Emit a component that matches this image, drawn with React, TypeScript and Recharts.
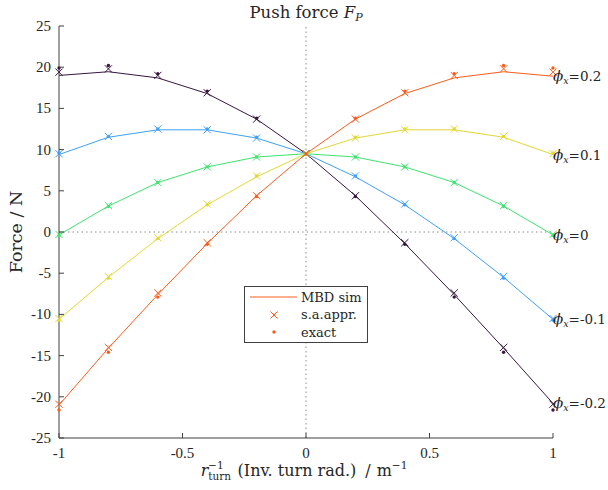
import React from "react"
import { LineChart, Line, XAxis, YAxis, ReferenceLine, Legend } from "recharts"

const xs = [-1, -0.8, -0.6, -0.4, -0.2, 0, 0.2, 0.4, 0.6, 0.8, 1]
const xTicks = [-1, -0.5, 0, 0.5, 1]
const yTicks = [-25, -20, -15, -10, -5, 0, 5, 10, 15, 20, 25]
const phiLabels = ["-0.2", "-0.1", "0", "0.1", "0.2"]
const colors = ["#36173f", "#3fa0f8", "#3ee46e", "#e2d834", "#fa5c1c"]

// phi_x = -0.2
const simM2 = [19.0, 19.45, 18.7, 16.8, 13.7, 9.5, 4.4, -1.4, -7.6, -14.1, -20.8]
const saM2 = [19.4, 19.8, 19.0, 16.9, 13.7, 9.5, 4.4, -1.3, -7.4, -14.0, -20.9]
const exM2 = [19.9, 20.2, 19.2, 17.1, 13.8, 9.5, 4.3, -1.5, -7.9, -14.6, -21.6]
// phi_x = -0.1
const simM1 = [9.4, 11.5, 12.4, 12.4, 11.4, 9.5, 6.7, 3.3, -0.8, -5.5, -10.6]
const saM1 = [9.5, 11.6, 12.5, 12.4, 11.4, 9.5, 6.8, 3.4, -0.7, -5.4, -10.5]
const exM1 = [9.6, 11.6, 12.5, 12.5, 11.5, 9.5, 6.8, 3.3, -0.8, -5.6, -10.7]
// phi_x = 0
const sim0 = [-0.35, 3.15, 6.0, 7.9, 9.1, 9.5, 9.1, 7.9, 6.0, 3.15, -0.35]
const sa0 = [-0.3, 3.2, 6.0, 7.9, 9.1, 9.5, 9.1, 7.9, 6.0, 3.2, -0.3]
const ex0 = [-0.4, 3.1, 6.0, 7.9, 9.1, 9.5, 9.1, 7.9, 6.0, 3.1, -0.4]
// phi_x = 0.1
const simP1 = [-10.6, -5.5, -0.8, 3.3, 6.7, 9.5, 11.4, 12.4, 12.4, 11.5, 9.4]
const saP1 = [-10.5, -5.4, -0.7, 3.4, 6.8, 9.5, 11.4, 12.4, 12.5, 11.6, 9.5]
const exP1 = [-10.7, -5.6, -0.8, 3.3, 6.8, 9.5, 11.5, 12.5, 12.5, 11.6, 9.6]
// phi_x = 0.2
const simP2 = [-21.0, -14.1, -7.6, -1.4, 4.4, 9.5, 13.7, 16.8, 18.7, 19.45, 18.9]
const saP2 = [-20.9, -14.0, -7.4, -1.3, 4.4, 9.5, 13.7, 16.9, 19.0, 19.8, 19.4]
const exP2 = [-21.6, -14.6, -7.9, -1.5, 4.3, 9.5, 13.8, 17.1, 19.2, 20.2, 19.9]

const sims = [simM2, simM1, sim0, simP1, simP2]
const sas = [saM2, saM1, sa0, saP1, saP2]
const exs = [exM2, exM1, ex0, exP1, exP2]

const data = xs.map((x, i) => {
  const row: Record<string, number> = { x }
  sims.forEach((s, k) => {
    row["sim" + k] = s[i]
    row["sa" + k] = sas[k][i]
    row["ex" + k] = exs[k][i]
  })
  return row
})

const SERIF = "'DejaVu Serif', serif"
const TICKF = "'Liberation Serif', serif"
const TXT = "#262626"
const AX = "#404040"

const Cross = (color: string) => (p: any) => {
  const { cx, cy } = p
  if (cx == null || cy == null) return <g />
  const s = 3.6
  return (
    <g stroke={color} strokeWidth={1}>
      <line x1={cx - s} y1={cy - s} x2={cx + s} y2={cy + s} />
      <line x1={cx - s} y1={cy + s} x2={cx + s} y2={cy - s} />
    </g>
  )
}

const Dot = (color: string) => (p: any) => {
  const { cx, cy } = p
  if (cx == null || cy == null) return <g />
  return <circle cx={cx} cy={cy} r={1.7} fill={color} stroke="none" />
}

const endLabel = (txt: string) => (p: any) => {
  const { x, y, index } = p
  if (index !== xs.length - 1) return null
  return (
    <text x={x} y={y + 5} fontFamily={SERIF} fontSize={13.5} fill={TXT}>
      <tspan fontStyle="italic" fontSize={15}>ϕ</tspan>
      <tspan fontStyle="italic" fontSize={9.5} dy={3}>x</tspan>
      <tspan dy={-3}>={txt}</tspan>
    </text>
  )
}

const YTick = (p: any) => {
  const { x, y, payload } = p
  return (
    <g>
      <line x1={x + 8} x2={x + 13} y1={y} y2={y} stroke={AX} />
      <text x={x} y={y} dy={5} textAnchor="end" fontFamily={TICKF} fontSize={15} fill={TXT}>
        {payload.value}
      </text>
    </g>
  )
}

const XTick = (p: any) => {
  const { x, y, payload } = p
  return (
    <g>
      <line x1={x} x2={x} y1={y - 9} y2={y - 14} stroke={AX} />
      <text x={x} y={y} dy={11} textAnchor="middle" fontFamily={TICKF} fontSize={15} fill={TXT}>
        {payload.value}
      </text>
    </g>
  )
}

const LegendBox = () => {
  const c = colors[4]
  const rows = ["MBD sim", "s.a.appr.", "exact"]
  return (
    <svg width={124} height={57} style={{ display: "block" }}>
      <rect x={0.5} y={0.5} width={123} height={56} fill="#fff" stroke={AX} />
      <line x1={6} x2={53} y1={11} y2={11} stroke={c} strokeWidth={1} />
      <g stroke={c} strokeWidth={1}>
        <line x1={26.5} y1={25.5} x2={33.5} y2={32.5} />
        <line x1={26.5} y1={32.5} x2={33.5} y2={25.5} />
      </g>
      <circle cx={30} cy={46} r={1.7} fill={c} />
      {rows.map((r, i) => (
        <text key={r} x={57} y={15.5 + i * 17.5} fontFamily={SERIF} fontSize={13} fill={TXT}>
          {r}
        </text>
      ))}
    </svg>
  )
}

export default function App() {
  return (
    <div style={{ position: "absolute", left: 0, top: 0, width: 608, height: 490, background: "#fff" }}>
      <LineChart width={608} height={490} data={data} margin={{ top: 26, right: 55, bottom: 22, left: 0 }}>
        <XAxis
          dataKey="x"
          type="number"
          domain={[-1, 1]}
          ticks={xTicks}
          tick={XTick}
          tickSize={0}
          tickMargin={9}
          tickLine={false}
          axisLine={{ stroke: AX }}
          height={30}
        />
        <YAxis
          type="number"
          domain={[-25, 25]}
          ticks={yTicks}
          tick={YTick}
          tickSize={0}
          tickMargin={8}
          tickLine={false}
          axisLine={{ stroke: AX }}
          width={59}
          interval={0}
        />
        <ReferenceLine x={0} stroke="#8c8c8c" strokeDasharray="1.5 3" />
        <ReferenceLine y={0} stroke="#8c8c8c" strokeDasharray="1.5 3" />
        {sims.map((_, k) => (
          <Line
            key={"sim" + k}
            dataKey={"sim" + k}
            stroke={colors[k]}
            strokeWidth={1}
            dot={false}
            type="linear"
            isAnimationActive={false}
            label={endLabel(phiLabels[k])}
          />
        ))}
        {sims.map((_, k) => (
          <Line
            key={"sa" + k}
            dataKey={"sa" + k}
            stroke="none"
            dot={Cross(colors[k])}
            activeDot={false}
            isAnimationActive={false}
          />
        ))}
        {sims.map((_, k) => (
          <Line
            key={"ex" + k}
            dataKey={"ex" + k}
            stroke="none"
            dot={Dot(colors[k])}
            activeDot={false}
            isAnimationActive={false}
          />
        ))}
        <Legend
          layout="horizontal"
          verticalAlign="middle"
          align="center"
          content={() => <LegendBox />}
          wrapperStyle={{ position: "absolute", left: 244, top: 286, width: 124, height: 57 }}
        />
      </LineChart>
      <svg width={608} height={490} style={{ position: "absolute", left: 0, top: 0, pointerEvents: "none" }}>
        <text x={306} y={18} textAnchor="middle" fontFamily={SERIF} fontSize={16.5} fill={TXT}>
          Push force <tspan fontStyle="italic">F</tspan>
          <tspan fontStyle="italic" fontSize={11} dy={3}>P</tspan>
        </text>
        <text
          x={0}
          y={0}
          transform="translate(22,232) rotate(-90)"
          textAnchor="middle"
          fontFamily={SERIF}
          fontSize={17.5}
          fill={TXT}
        >
          Force / N
        </text>
        <text x={304} y={476} textAnchor="middle" fontFamily={SERIF} fontSize={16} fill={TXT}>
          <tspan fontStyle="italic">r</tspan>
          <tspan fontSize={10.5} dy={4}>turn</tspan>
          <tspan fontSize={10.5} dx={-23} dy={-11}>−1</tspan>
          <tspan dx={14} dy={7}>(Inv. turn rad.)</tspan>
          <tspan dx={9}>/</tspan>
          <tspan dx={6}>m</tspan>
          <tspan fontSize={10.5} dy={-7}>−1</tspan>
        </text>
      </svg>
    </div>
  )
}
